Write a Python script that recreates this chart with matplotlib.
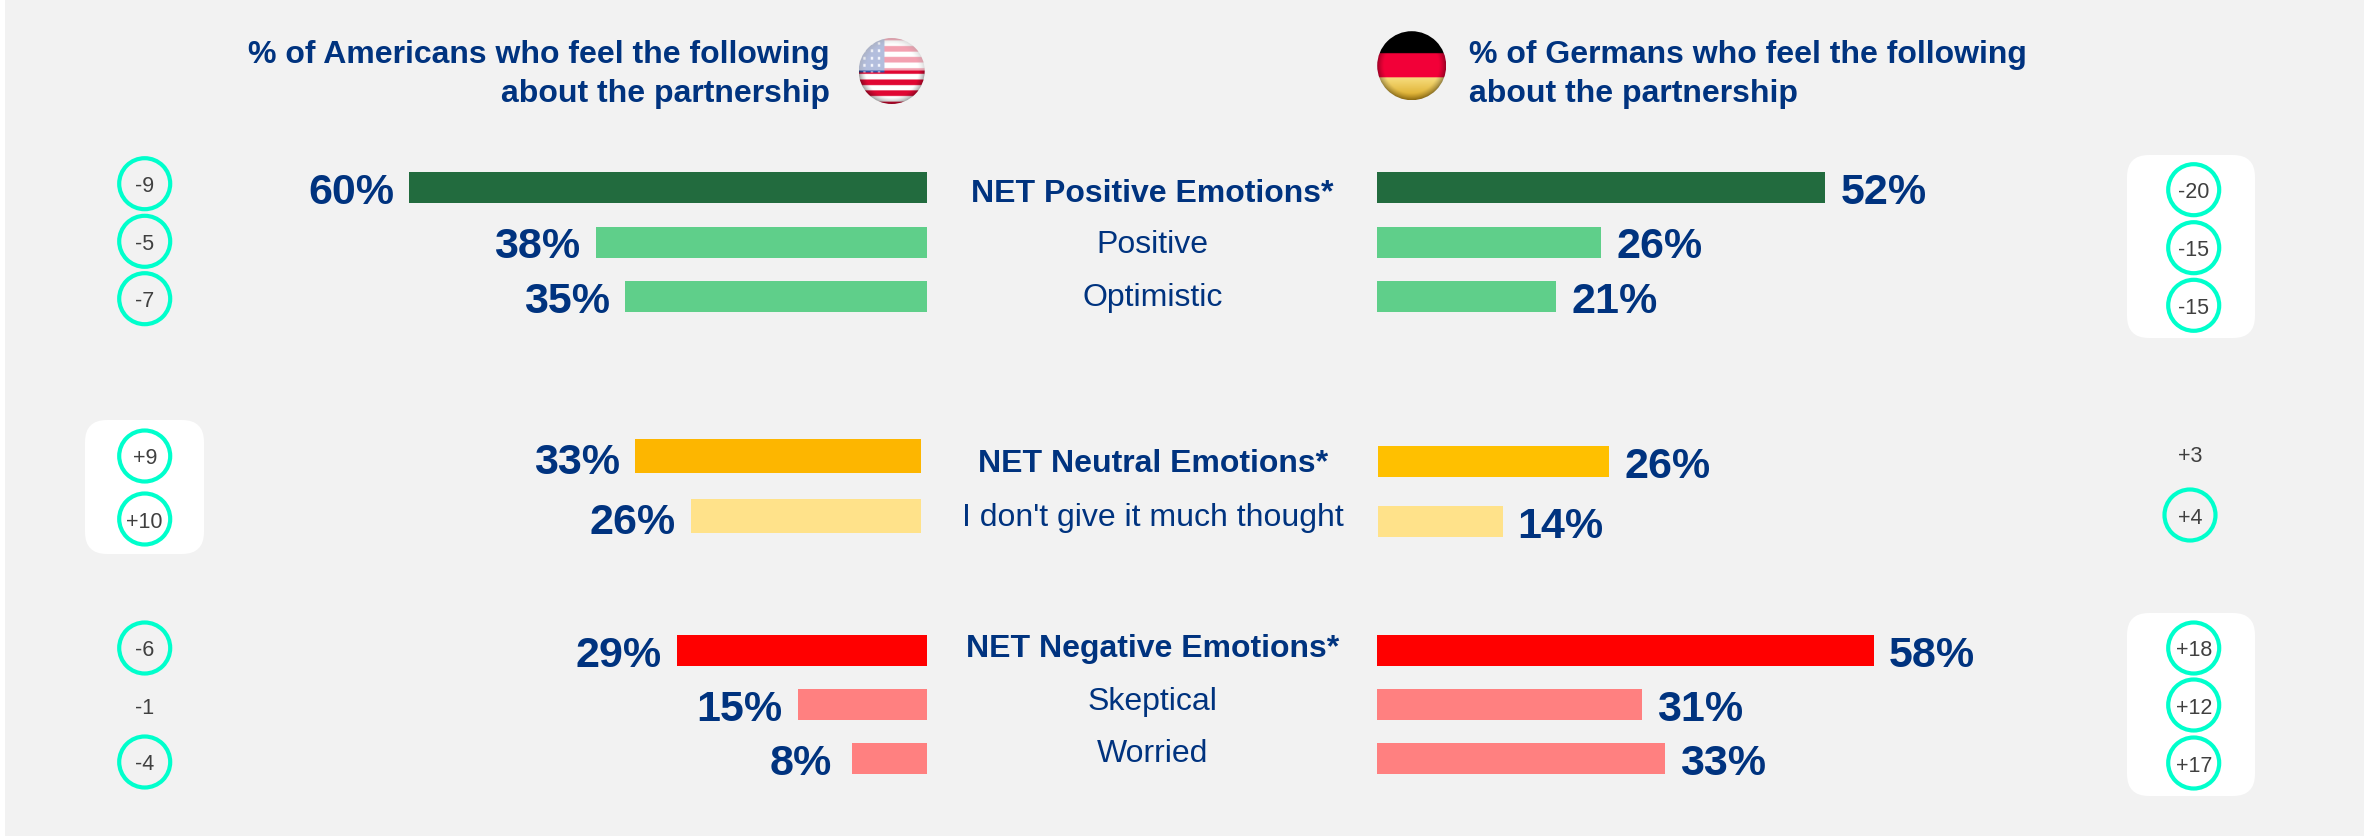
import numpy as np
import matplotlib
matplotlib.use("Agg")
import matplotlib.pyplot as plt
from matplotlib.patches import Circle, FancyBboxPatch, Rectangle

# ---------- data ----------
pos_labels = ["NET Positive Emotions*", "Positive", "Optimistic"]
neu_labels = ["NET Neutral Emotions*", "I don't give it much thought"]
neg_labels = ["NET Negative Emotions*", "Skeptical", "Worried"]

# printed (rounded) percentages
us_pos = [60, 38, 35]
us_neu = [33, 26]
us_neg = [29, 15, 8]
de_pos = [52, 26, 21]
de_neu = [26, 14]
de_neg = [58, 31, 33]

# bar lengths (the bars carry unrounded values)
us_pos_len = [60, 38.4, 35]
us_neu_len = [33, 26.5]
us_neg_len = [29, 15, 8.7]
de_pos_len = [52, 26, 20.8]
de_neu_len = [26, 14]
de_neg_len = [58, 31, 33.6]

us_pos_change = ["-9", "-5", "-7"]
us_neu_change = ["+9", "+10"]
us_neg_change = ["-6", "-1", "-4"]
de_pos_change = ["-20", "-15", "-15"]
de_neu_change = ["+3", "+4"]
de_neg_change = ["+18", "+12", "+17"]

us_title = "% of Americans who feel the following\nabout the partnership"
de_title = "% of Germans who feel the following\nabout the partnership"

# ---------- style ----------
W, H = 2364, 837
BLUE = "#00337F"
GREY = "#404040"
TEAL = "#00FFCC"
FONT = "Liberation Sans"
plt.rcParams["font.family"] = [FONT, "DejaVu Sans"]

fig = plt.figure(figsize=(W / 100, H / 100), dpi=100, facecolor="white")
bg = fig.add_axes([0, 0, 1, 1], zorder=0)
bg.set_xlim(0, W)
bg.set_ylim(H, 0)
bg.axis("off")
bg.add_patch(Rectangle((5, 0), W - 5, H, fc="#F2F2F2", ec="none"))


def bars(values, lengths, colors, edge, ppu, side, y0, pitch, height, gaps=None):
    """One group of bars: edge is the zero line in pixels, ppu pixels per percent."""
    n = len(values)
    span = 62 * ppu
    left = edge - span if side == "left" else edge
    top = y0 - pitch / 2
    ax = fig.add_axes([left / W, 1 - (top + n * pitch) / H, span / W, n * pitch / H], zorder=2)
    ax.patch.set_alpha(0)
    ax.axis("off")
    ax.set_xlim((62, 0) if side == "left" else (0, 62))
    ax.set_ylim(n - 0.5, -0.5)
    h = height / pitch
    rows = np.arange(n)
    ax.barh(rows, lengths, height=h, color=colors, linewidth=0)
    sign = -1 if side == "left" else 1
    gaps = gaps or [15] * n
    for r, v, ln, g in zip(rows, values, lengths, gaps):
        ax.annotate(f"{v}%", xy=(ln, r + h / 2), xytext=(sign * g * 0.72, 0),
                    textcoords="offset points", color=BLUE, fontsize=31, fontweight="bold",
                    ha="right" if side == "left" else "left", va="baseline")


GREENS = ["#226B3E", "#5FCF8A", "#5FCF8A"]
REDS = ["#FF0000", "#FF8080", "#FF8080"]
bars(us_pos, us_pos_len, GREENS, 927, 8.63, "left", 188.5, 54.5, 31)
bars(us_neu, us_neu_len, ["#FDB600", "#FFE28A"], 921, 8.68, "left", 457, 60, 34)
bars(us_neg, us_neg_len, REDS, 927, 8.62, "left", 651.5, 54, 31, gaps=[15, 15, 20])
bars(de_pos, de_pos_len, GREENS, 1376.7, 8.63, "right", 188.5, 54.5, 31)
bars(de_neu, de_neu_len, ["#FFC000", "#FFE28A"], 1378, 8.9, "right", 462.5, 60, 31)
bars(de_neg, de_neg_len, REDS, 1376.7, 8.57, "right", 651.5, 54, 31)

# centre labels
for labels, ys in ((pos_labels, (201.7, 252.7, 306)),
                   (neu_labels, (471.7, 526)),
                   (neg_labels, (656.7, 710, 761.7))):
    for i, (t, y) in enumerate(zip(labels, ys)):
        bg.text(1152.7, y, t, ha="center", va="baseline", color=BLUE, fontsize=23,
                fontweight="bold" if i == 0 else "normal", zorder=5)

# headers
for x, ha, title in ((830, "right", us_title), (1469, "left", de_title)):
    for line, y in zip(title.split("\n"), (62.7, 101.7)):
        bg.text(x, y, line, ha=ha, va="baseline", color=BLUE, fontsize=23, fontweight="bold", zorder=5)


# white panels
def panel(x0, y0, x1, y1):
    r = 22
    bg.add_patch(FancyBboxPatch((x0 + r, y0 + r), x1 - x0 - 2 * r, y1 - y0 - 2 * r,
                                boxstyle=f"round,pad={r},rounding_size={r}", fc="white", ec="none", zorder=1))


panel(85, 421, 204, 555)
panel(2127, 156, 2255, 339)
panel(2127, 614, 2255, 797)


# change badges
def badges(texts, x, ys, ringed=None):
    for i, (t, y) in enumerate(zip(texts, ys)):
        if ringed is None or ringed[i]:
            bg.add_patch(Circle((x, y), 25.5, fc="none", ec=TEAL, lw=3, zorder=3))
        bg.text(x, y + 2, t, ha="center", va="center", color=GREY, fontsize=15.5, zorder=5)


badges(us_pos_change, 144.7, (184.7, 242.3, 299.7))
badges(us_neu_change, 144.7, (457, 520))
badges(us_neg_change, 144.7, (649, 707, 763), (True, False, True))
badges(de_pos_change, 2193.7, (190.7, 248.7, 306.3))
badges(de_neu_change, 2190, (455, 516), (False, True))
badges(de_neg_change, 2193.7, (649, 706, 764))


# flags
def flag_image(kind, n=140):
    ys, xs = np.mgrid[-1:1:n * 1j, -1:1:n * 1j]
    img = np.ones((n, n, 3))
    if kind == "us":
        red = np.cos(2 * np.pi * ys / 0.34) > 0
        img[red] = (0.88, 0.03, 0.2)
        canton = (xs < -0.23) & (ys < 0.05)
        img[canton] = (0.22, 0.33, 0.65)
        star = canton & (np.sin(xs * 28) > 0.5) & (np.sin(ys * 28) > 0.4)
        img[star] = (0.92, 0.94, 1)
    else:
        img[ys < -0.36] = (0, 0, 0)
        img[(ys >= -0.36) & (ys < 0.34)] = (0.95, 0, 0.22)
        gold = ys >= 0.34
        t = np.clip((ys - 0.34) / 0.66, 0, 1)[..., None]
        mix = (1 - t) * np.array((0.97, 0.87, 0.5)) + t * np.array((0.85, 0.65, 0.12))
        img[gold] = mix[gold]
    r = np.hypot(xs, ys)
    shade = np.clip(1.25 - 0.6 * r ** 4, 0, 1)[..., None]
    img = img * shade
    if kind == "us":
        gloss = np.clip(0.7 * (1 - (ys + 0.1) / 0.9), 0, 0.62) * (ys < -0.02)
        img = img + (1 - img) * gloss[..., None]
    return np.clip(img, 0, 1)


for kind, cx, cy, rad in (("us", 891.7, 72, 33), ("de", 1411.7, 66.7, 34.5)):
    im = bg.imshow(flag_image(kind), extent=(cx - rad, cx + rad, cy + rad, cy - rad),
                   zorder=4, interpolation="bilinear", aspect="auto")
    clip = Circle((cx, cy), rad, transform=bg.transData)
    im.set_clip_path(clip)
bg.set_xlim(0, W)
bg.set_ylim(H, 0)

fig.savefig("out.png", dpi=100, facecolor=fig.get_facecolor())
